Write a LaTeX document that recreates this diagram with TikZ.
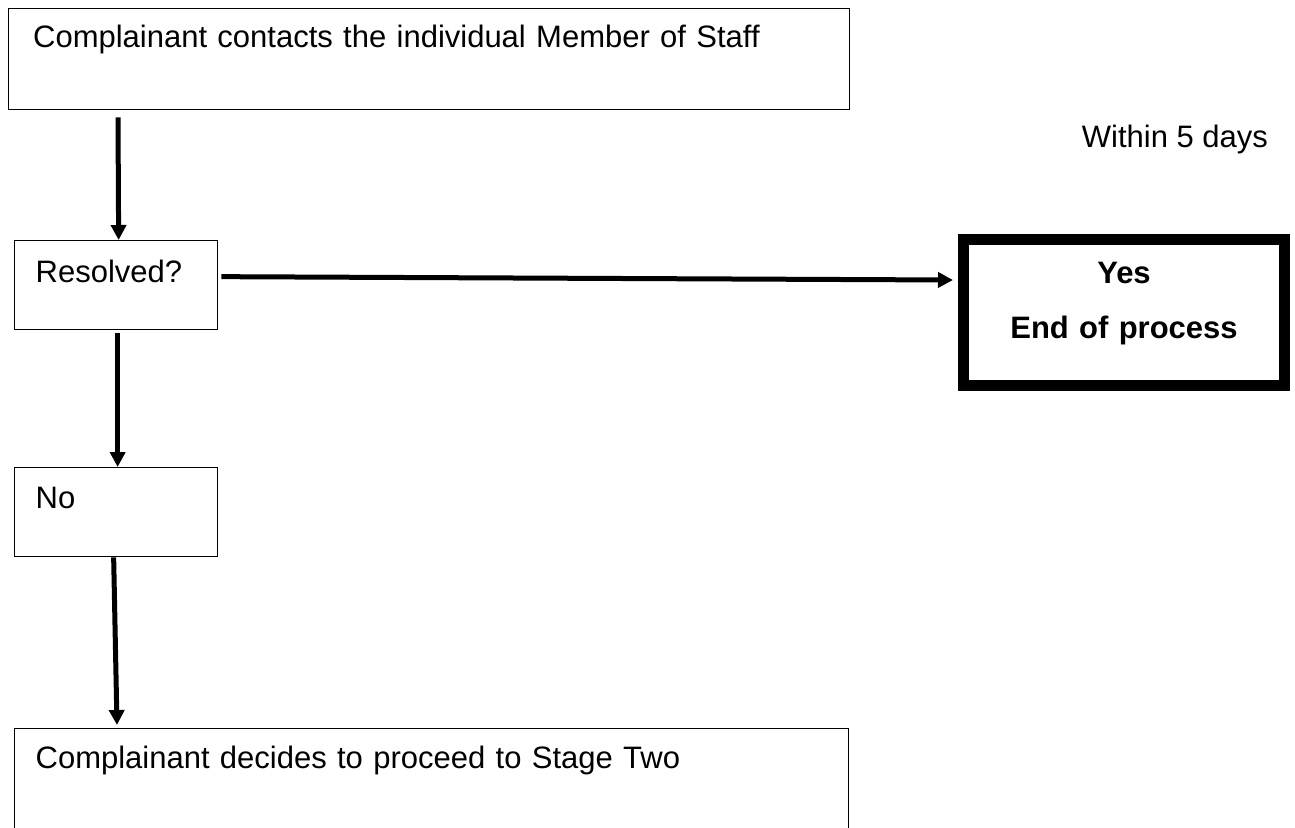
\documentclass[tikz,border=0pt]{standalone}
\usepackage{fontspec}
\setmainfont{Liberation Sans}
\usetikzlibrary{arrows.meta}
\begin{document}
\begin{tikzpicture}[x=0.5pt,y=-0.5pt,>={Triangle[length=7.5pt,width=7.5pt]},
	font=\fontsize{15.5pt}{18pt}\selectfont, line join=miter,
	box/.style={draw,line width=0.65pt,anchor=north west,inner xsep=10.5pt,inner ysep=0pt,align=left},
	endbox/.style={draw,line width=5.5pt,inner sep=0pt,text width=160.5pt,align=center,
		font=\fontsize{15.5pt}{27.5pt}\selectfont\bfseries,text height=21.75pt,text depth=51.25pt},
	flow/.style={->,line width=2.5pt}]
	\useasboundingbox (0,0) rectangle (1295,827);
	% Hộp
	\node[box,inner xsep=12.5pt,text width=395.5pt,text height=19.5pt,text depth=31pt] (contact) at (7.5,8) {Complainant contacts the individual Member of Staff};
	\node[box,text width=80.5pt,text height=21pt,text depth=23.5pt] (resolved) at (14,240) {Resolved?};
	\node[box,text width=80.5pt,text height=20.5pt,text depth=24pt] (no) at (14,467) {No};
	\node[box,text width=396pt,text height=20pt,text depth=35pt] (stage) at (14,728) {Complainant decides to proceed to Stage Two};
	\node[endbox] (yes) at (1124,312.5) {Yes\\End of process};
	\node[anchor=base east] (limit) at (1275,147) {Within 5 days};
	% Mũi tên
	\draw[flow] ([xshift=55.25pt,yshift=-3.5pt]contact.south west)--([xshift=1.25pt]resolved.north);
	\draw[flow] ([xshift=0.75pt,yshift=-1.5pt]resolved.south)--([xshift=0.75pt]no.north);
	\draw[flow] ([xshift=-1.25pt]no.south)--([xshift=51.5pt,yshift=1.5pt]stage.north west);
	\draw[flow] ([shift={(1.5pt,4.25pt)}]resolved.east)--([shift={(-2.5pt,16.25pt)}]yes.west);
\end{tikzpicture}
\end{document}
